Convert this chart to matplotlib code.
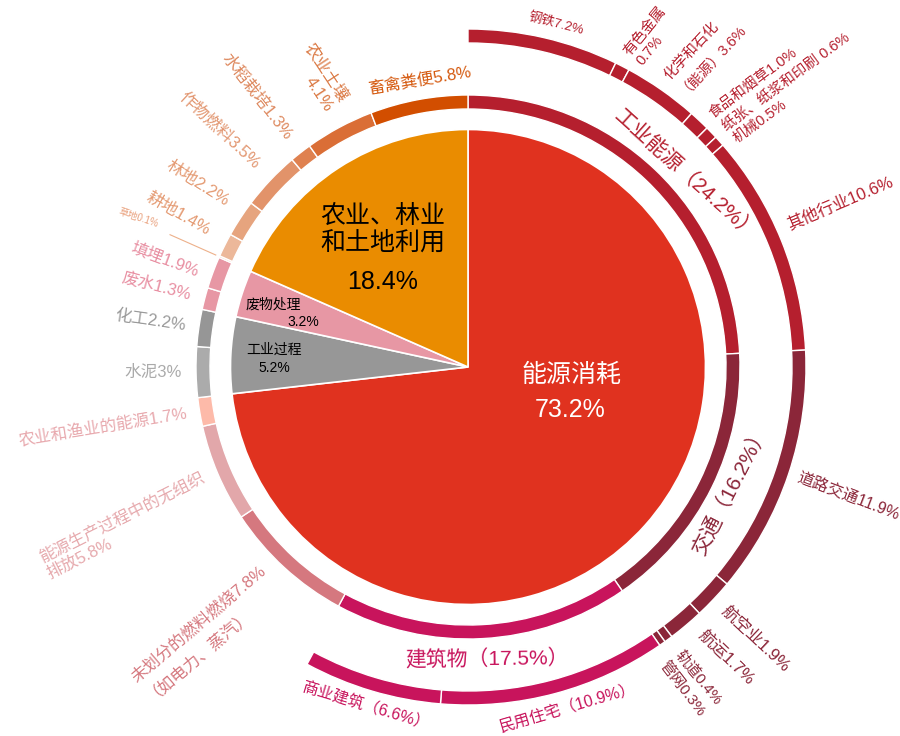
import numpy as np
import matplotlib
matplotlib.use('Agg')
import matplotlib.pyplot as plt

plt.rcParams['font.family'] = ['Liberation Sans', 'Noto Sans CJK SC', 'DejaVu Sans']

# ---------------- data ----------------
pie_labels = ['能源消耗', '工业过程', '废物处理', '农业、林业\n和土地利用']
pie_values = [73.2, 5.2, 3.2, 18.4]

ring_labels = ['工业能源', '交通', '建筑物', '未划分的燃料燃烧', '能源生产过程中的无组织排放',
               '农业和渔业的能源', '水泥', '化工', '废水', '填埋', '草地', '耕地', '林地',
               '作物燃料', '水稻栽培', '农业土壤', '畜禽粪便']
ring_values = [24.2, 16.2, 17.5, 7.8, 5.8, 1.7, 3, 2.2, 1.3, 1.9, 0.1, 1.4, 2.2, 3.5, 1.3, 4.1, 5.8]

outer_labels = ['钢铁', '有色金属', '化学和石化（能源）', '食品和烟草', '纸张、纸浆和印刷', '机械',
                '其他行业', '道路交通', '航空业', '航运', '轨道', '管网', '民用住宅', '商业建筑']
outer_values = [7.2, 0.7, 3.6, 1.0, 0.6, 0.5, 10.6, 11.9, 1.9, 1.7, 0.4, 0.3, 10.9, 6.6]

# ---------------- styles ----------------
pie_colors = ['#E0321F', '#979797', '#E797A4', '#EA8C00']
IND, TRA, BLD = '#B51F2E', '#8B2639', '#C8145C'
ring_colors = [IND, TRA, BLD, '#D5787F', '#E2A7AA', '#FDBAA9', '#ABABAB', '#969696',
               '#E797A4', '#E797A4', '#EDB99A', '#ECB89A', '#E6A47E', '#E2936A', '#DF8150',
               '#DA6E36', '#D24E00']
outer_colors = [IND] * 7 + [TRA] * 5 + [BLD] * 2

cx, cy = 468, 736 - 367
R_PIE = 237.5
R_IN, R_OUT, W = 272, 338, 14

fig = plt.figure(figsize=(9, 7.36), dpi=100)
ax = fig.add_axes([0, 0, 1, 1])

ax.pie(pie_values, colors=pie_colors, center=(cx, cy), radius=R_PIE, startangle=90,
       counterclock=False, wedgeprops=dict(edgecolor='white', linewidth=1.2))
ax.pie(ring_values, colors=ring_colors, center=(cx, cy), radius=R_IN, startangle=90,
       counterclock=False, wedgeprops=dict(width=W, edgecolor='white', linewidth=1))
rest = 100 - sum(outer_values)
wedges, _ = ax.pie(outer_values + [rest], colors=outer_colors + ['none'], center=(cx, cy),
                   radius=R_OUT, startangle=90, counterclock=False,
                   wedgeprops=dict(width=W, edgecolor='white', linewidth=1))
wedges[-1].set_visible(False)


def mids(vals):
    c = np.cumsum(vals)
    return (c - np.asarray(vals) / 2) * 3.6


def polar(theta, r):
    t = np.deg2rad(theta)
    return cx + r * np.sin(t), cy + r * np.cos(t)


def place(theta, r, text, mode, fs, color, drot=0.0, malign='left', ls=1.2):
    x, y = polar(theta, r)
    th = theta % 360
    if mode == 'radial':
        if th < 180:
            rot, ha = 90 - th, 'left'
        else:
            rot, ha = 270 - th, 'right'
    else:
        rot = 180 - th if 90 < th < 270 else -th
        ha = 'center'
    ax.text(x, y, text, rotation=rot + drot, ha=ha, va='center', rotation_mode='anchor',
            fontsize=fs, color=color, multialignment=malign, linespacing=ls)


# outer ring labels: template, mode, dtheta, r, drot, fontsize
outer_style = [
    ('{n}{v:.1f}%', 'tan', 1.5, 354, 0, 9.5),
    ('{n}\n{v:.1f}%', 'radial', 1.0, 350, -10.8, 10.5),
    ('化学和石化\n（能源）{v:.1f}%', 'radial', 0.9, 350, -7, 10.5),
    ('{n}{v:.1f}%', 'radial', 0.6, 350, -9.3, 10.5),
    ('{n} {v:.1f}%', 'radial', 0.9, 350, -6.6, 10.5),
    ('{n}{v:.1f}%', 'radial', 1.5, 350, -4.6, 10.5),
    ('{n}{v:.1f}%', 'radial', -2.0, 350, -1, 12),
    ('{n}{v:.1f}%', 'radial', 0.0, 347, -2.5, 11.5),
    ('{n}{v:.1f}%', 'radial', 0.0, 352, 0, 12),
    ('{n}{v:.1f}%', 'radial', -1.0, 353, 5, 12),
    ('{n}{v:.1f}%', 'radial', 0.0, 354, 3, 11),
    ('{n}{v:.1f}%', 'radial', 1.7, 354, 4, 11),
    ('{n}（{v:.1f}%）', 'tan', -1.4, 355, 0, 11.5),
    ('{n}（{v:.1f}%）', 'tan', 0.3, 355, 0, 11.5),
]
for n, v, th, col, st in zip(outer_labels, outer_values, mids(outer_values), outer_colors, outer_style):
    tpl, mode, dth, r, drot, fs = st
    place(th + dth, r, tpl.format(n=n, v=v), mode, fs, col, drot)

# inner ring labels: template, mode, dtheta, r, drot, fontsize, color, multialign
ring_style = [
    ('{n}（{v:.1f}%）', 'tan', 5.0, 290, 6.6, 15, IND, 'left'),
    ('{n}（{v:.1f}%）', 'tan', -1.1, 291, -2, 15, TRA, 'left'),
    ('{n}（{v:.1f}%）', 'tan', -0.6, 293, -3, 15, BLD, 'left'),
    ('{n}{v:.1f}%\n（如电力、蒸汽）', 'radial', 1.2, 288, -6, 12, '#D5787F', 'left'),
    ('能源生产过程中的无组织\n排放{v:.1f}%', 'radial', -1.3, 286, 2.3, 12, '#E6A9AD', 'left'),
    ('{n}{v:.1f}%', 'radial', 0.2, 285, 0, 12, '#E8A9AE', 'left'),
    ('{n}{v:g}%', 'radial', 0.0, 286, -1, 12, '#AAAAAA', 'left'),
    ('{n}{v:.1f}%', 'radial', 0.0, 285, 0, 12, '#999999', 'left'),
    ('{n}{v:.1f}%', 'radial', 0.0, 287, 0, 12, '#E88FA2', 'left'),
    ('{n}{v:.1f}%', 'radial', -1.0, 286, -1, 12, '#E88FA2', 'left'),
    None,
    ('{n}{v:.1f}%', 'radial', 1.0, 292, -2, 12, '#E49A72', 'left'),
    ('{n}{v:.1f}%', 'radial', 1.2, 291, 2, 12, '#E49A72', 'left'),
    ('{n}{v:.1f}%', 'radial', 0.6, 291, 1, 12, '#E29670', 'left'),
    ('{n}{v:.1f}%', 'radial', 0.0, 291, 0, 12, '#DE8A60', 'left'),
    ('{n}\n{v:.1f}%', 'radial', 1.6, 293, 6.7, 12, '#DB7A45', 'right'),
    ('{n}{v:.1f}%', 'tan', 0.9, 290, 0, 12, '#D55A10', 'left'),
]
for n, v, th, st in zip(ring_labels, ring_values, mids(ring_values), ring_style):
    if st is None:
        # tiny slice with a leader line
        x0, y0 = polar(th, 276)
        x1, y1 = polar(th, 326)
        ax.plot([x0, x1], [y0, y1], color='#EDB08A', lw=0.8)
        place(th + 0.7, 341, f'{n}{v:.1f}%', 'radial', 7, '#E9A07C', 6)
        continue
    tpl, mode, dth, r, drot, fs, col, ma = st
    place(th + dth, r, tpl.format(n=n, v=v), mode, fs, col, drot, malign=ma)

# pie labels
ax.text(cx + 104, cy - 8, pie_labels[0], color='white', fontsize=18, ha='center', va='center')
ax.text(cx + 102, cy - 43, f'{pie_values[0]:.1f}%', color='white', fontsize=18, ha='center', va='center')
ax.text(cx - 194, cy + 17, pie_labels[1], color='black', fontsize=10, ha='center', va='center')
ax.text(cx - 194, cy - 1, f'{pie_values[1]:.1f}%', color='black', fontsize=10, ha='center', va='center')
ax.text(cx - 195, cy + 62, pie_labels[2], color='black', fontsize=10, ha='center', va='center')
ax.text(cx - 165, cy + 45, f'{pie_values[2]:.1f}%', color='black', fontsize=10, ha='center', va='center')
ax.text(cx - 85, cy + 138, pie_labels[3], color='black', fontsize=18, ha='center', va='center',
        linespacing=1.15)
ax.text(cx - 85, cy + 85, f'{pie_values[3]:.1f}%', color='black', fontsize=18, ha='center', va='center')

ax.set_xlim(0, 900)
ax.set_ylim(0, 736)
ax.set_aspect('equal')
ax.axis('off')
fig.savefig('out.png', dpi=100, facecolor='white')
